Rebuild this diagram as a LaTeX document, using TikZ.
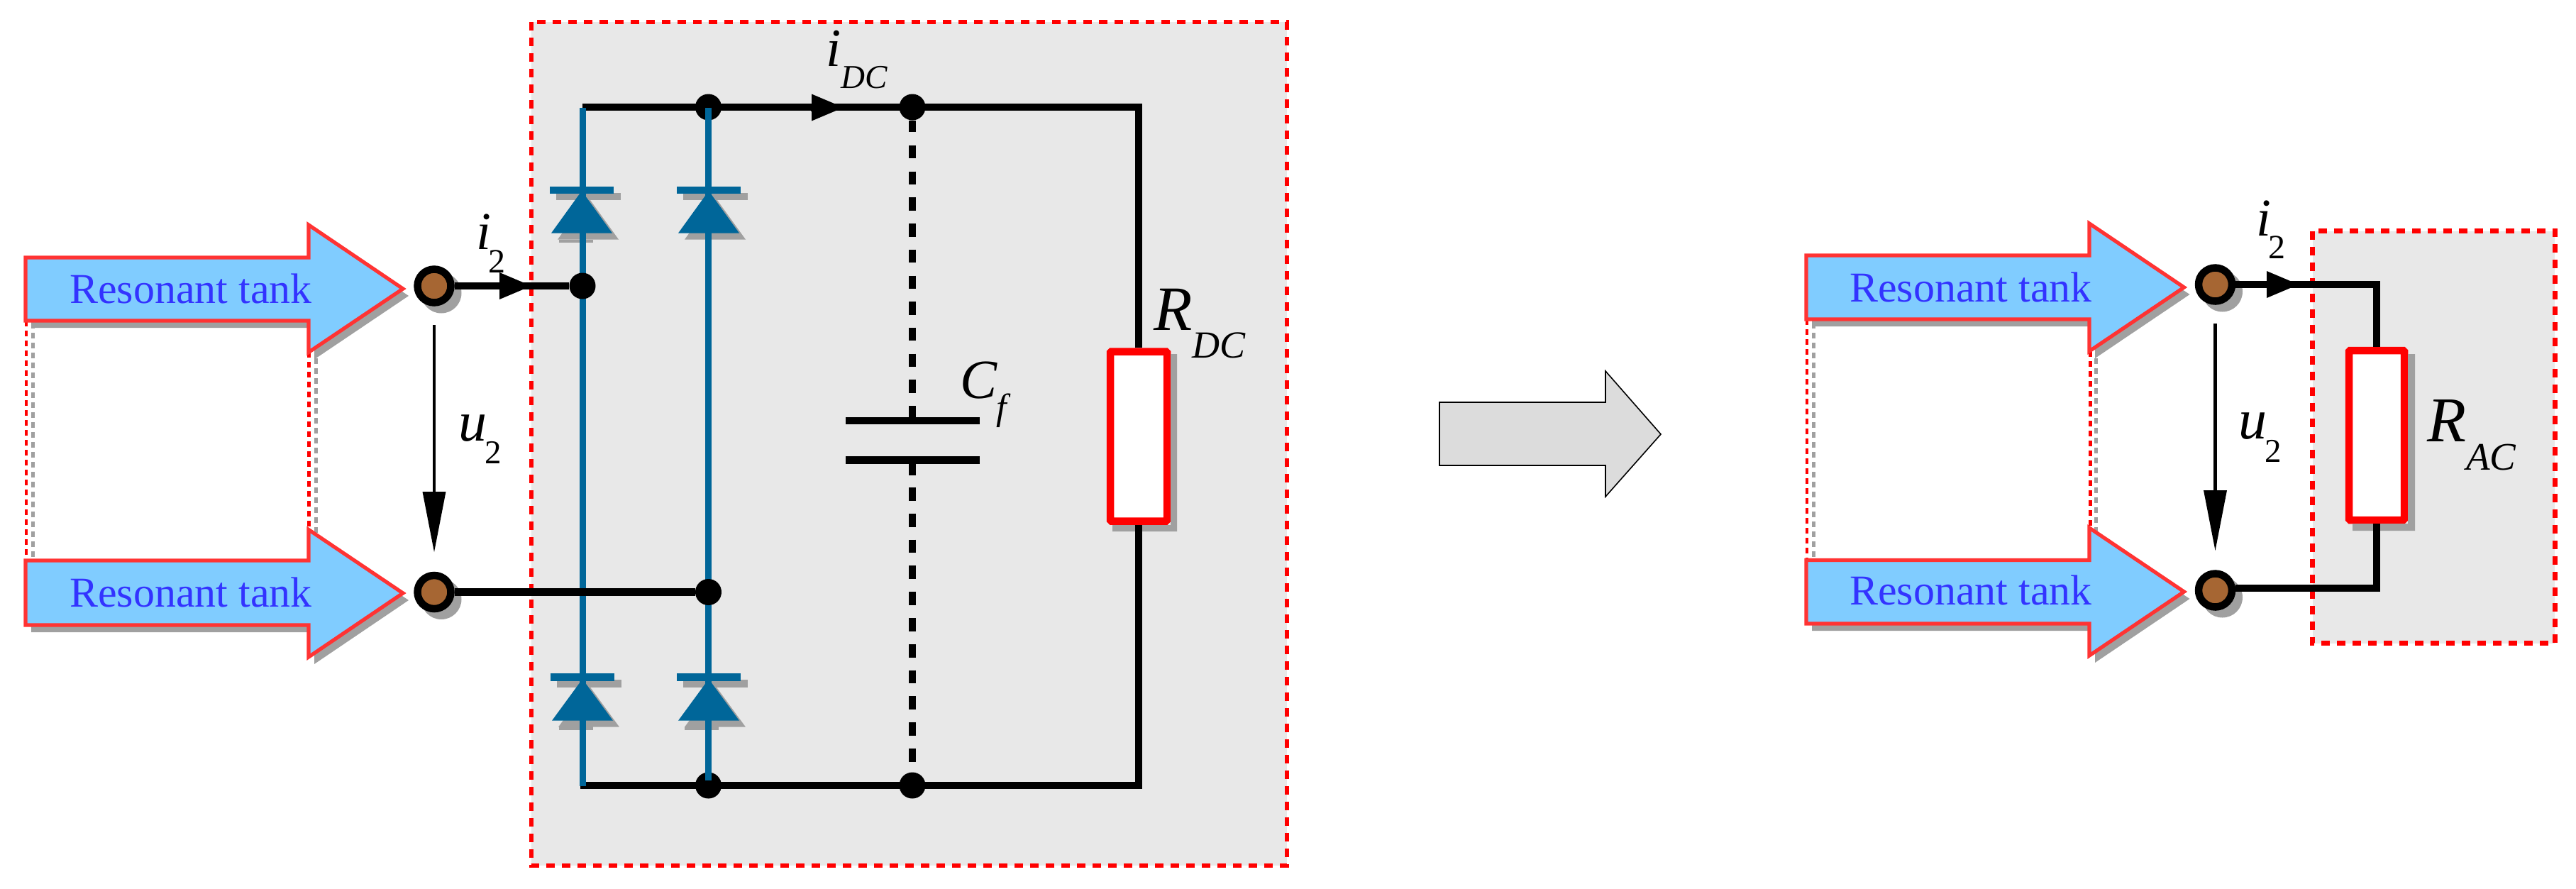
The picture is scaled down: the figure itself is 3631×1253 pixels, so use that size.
\documentclass[tikz,border=0pt]{standalone}
\usepackage{fontspec}
\setmainfont{Liberation Serif}
\usetikzlibrary{arrows.meta}
\definecolor{shadowc}{HTML}{A0A0A0}
\definecolor{tankfill}{HTML}{80CCFF}
\definecolor{tankline}{HTML}{FF3333}
\definecolor{tanktext}{HTML}{3333FF}
\definecolor{boxfill}{HTML}{E8E8E8}
\definecolor{blueline}{HTML}{006699}
\definecolor{brownc}{HTML}{A66633}
\definecolor{midfill}{HTML}{DCDCDC}
\tikzset{
  loadbox/.style={fill=boxfill},
  loadline/.style={draw=red,line width=3.2pt,dash pattern=on 6pt off 5pt},
  wire/.style={draw=black,line width=5.25pt,line join=miter,line cap=butt},
  blwire/.style={draw=blueline,line width=4.5pt},
  dotn/.style={circle,fill=black,inner sep=0pt,minimum size=18.5pt},
  terminal/.style={circle,draw=black,line width=5.25pt,fill=brownc,inner sep=0pt,minimum size=23.5pt},
  resbox/.style={rectangle,draw=red,line width=5.25pt,fill=white,inner sep=0pt,rounded corners=0.8pt},
  tankshape/.style={fill=tankfill,draw=tankline,line width=2.6pt,miter limit=10},
  tanktxt/.style={anchor=base west,inner sep=0pt,outer sep=0pt,text=tanktext,font=\fontsize{30pt}{32pt}\selectfont},
  mathlbl/.style={anchor=base west,inner sep=0pt,outer sep=0pt,text=black},
  reddash/.style={draw=red,line width=2.3pt,dash pattern=on 4pt off 3pt},
  greydash/.style={draw=shadowc,line width=2.5pt,dash pattern=on 4pt off 3pt},
  flowtip/.style={-{Triangle[length=22.5pt,width=19pt,line width=0pt]},draw=black,line width=5pt},
  volt/.style={-{Triangle[length=42.5pt,width=16.5pt,line width=0pt]},draw=black,line width=2.3pt},
}
% main letter, its size, subscript, its size, kern, drop (sizes and lengths in pt)
\newcommand{\lblsub}[6]{{\fontsize{#2pt}{#2pt}\selectfont\itshape #1}\kern#5pt\raisebox{-#6pt}{\fontsize{#4pt}{#4pt}\selectfont #3}}
% left, body top, body bottom, head x, head top, head bottom, tip x, tip y
\newcommand{\tankarrow}[8]{%
  \fill[shadowc] ({#1+8},{#2+10}) -- ({#4+8},{#2+10}) -- ({#4+8},{#5+10}) -- ({#7+8},{#8+10}) -- ({#4+8},{#6+10}) -- ({#4+8},{#3+10}) -- ({#1+8},{#3+10}) -- cycle;
  \path[tankshape] (#1,#2) -- (#4,#2) -- (#4,#5) -- (#7,#8) -- (#4,#6) -- (#4,#3) -- (#1,#3) -- cycle;}
% centre x, bar top, bar bottom, apex y, base y
\newcommand{\diodeshadow}[5]{%
  \fill[shadowc] ({#1-36},{#2+9}) rectangle ({#1+55},{#3+9});
  \fill[shadowc] ({#1+9},{#4+9}) -- ({#1+52},{#5+9}) -- ({#1-34},{#5+9}) -- cycle;}
\newcommand{\diodeshape}[5]{%
  \fill[blueline] ({#1-45},#2) rectangle ({#1+45},#3);
  \fill[blueline] (#1,#4) -- ({#1+43},#5) -- ({#1-43},#5) -- cycle;}
\begin{document}
\begin{tikzpicture}[x=0.5pt,y=-0.5pt]
\useasboundingbox (0,0) rectangle (3631,1253);

% ---------- left part: rectifier box
\fill[loadbox] (749,31) rectangle (1814,1220);
\draw[loadline] (749,31) rectangle (1814,1220);

% resonant tank arrows, left
\draw[greydash] (46,455) -- (46,795);
\draw[greydash] (445,505) -- (445,755);
\draw[reddash] (37,452) -- (37,790);
\draw[reddash] (435.5,496) -- (435.5,746);
\tankarrow{36}{363}{452}{435}{317}{496.5}{568}{407}
\tankarrow{36}{790}{881}{435}{746.5}{926}{568}{836}
\node[tanktxt] (tankA) at (98,427) {Resonant tank};
\node[tanktxt] (tankB) at (98,855) {Resonant tank};

% terminals, left
\fill[shadowc] (622,413) circle[radius=28.5];
\fill[shadowc] (622,844.5) circle[radius=28.5];
\node[terminal] (tA) at (612,403) {};
\node[terminal] (tB) at (612,834.5) {};

% diode shadows
\diodeshadow{820}{263}{273}{269}{328.6}
\diodeshadow{999}{263}{273}{269}{328.6}
\diodeshadow{821}{949}{960}{957}{1015.7}
\diodeshadow{999}{949}{960}{957}{1015.7}
\fill[shadowc] (788,338) rectangle (836,342);
\fill[shadowc] (788,1024) rectangle (836,1029);
\fill[shadowc] (965,1024) rectangle (1013,1029);

% output wires, capacitor, resistor
\node[dotn] (dTop) at (998.5,151) {};
\node[dotn] (dCapT) at (1286,151) {};
\node[dotn] (dBot) at (998.5,1107) {};
\node[dotn] (dCapB) at (1286,1107) {};
\coordinate (tl) at (821,151);
\coordinate (tr) at (1605,151);
\coordinate (bl) at (818,1107);
\coordinate (br) at (1605,1107);
\node[resbox,minimum width=40pt,minimum height=119.5pt] (Rdc) at (1605,615) {};
\fill[shadowc] (1650,499) -- (1659,499) -- (1659,749) -- (1568,749) -- (1568,740) -- (1650,740) -- cycle;
\draw[wire] (tl) -- (tr) -- (Rdc.north);
\draw[wire] (bl) -- (br) -- (Rdc.south);

% capacitor
\coordinate (pA) at (1286,593);
\coordinate (pB) at (1286,648.5);
\coordinate (dashA) at (1286,205);
\coordinate (dashB) at (1286,687);
\coordinate (stubA) at (1286,186);
\coordinate (stubB) at (1286,572);
\coordinate (stubC) at (1286,670);
\draw[wire] (dCapT) -- (stubA);
\draw[wire,dash pattern=on 9.2pt off 9.15pt] (dashA) -- (stubB);
\draw[wire] (stubB) -- (pA);
\draw[wire] (pB) -- (stubC);
\draw[wire,dash pattern=on 9.4pt off 9pt] (dashB) -- (dCapB);
\fill[black] (1192,588) rectangle (1381,598);
\fill[black] (1192,643) rectangle (1381,654);

% i_DC arrow
\coordinate (fDCa) at (1143,151.5);
\coordinate (fDCb) at (1189,151.5);
\draw[flowtip] (fDCa) -- (fDCb);

% diode legs
\coordinate (blA) at (821,151.8);
\coordinate (blB) at (821,1108);
\coordinate (blC) at (998.5,151.8);
\coordinate (blD) at (998.5,1100);
\draw[blwire] (blA) -- (blB);
\draw[blwire] (blC) -- (blD);
\diodeshape{820}{263}{273}{269}{328.6}
\diodeshape{999}{263}{273}{269}{328.6}
\diodeshape{821}{949}{960}{957}{1015.7}
\diodeshape{999}{949}{960}{957}{1015.7}

% input wires
\node[dotn] (dA) at (821,403) {};
\node[dotn] (dB) at (998.5,834.5) {};
\draw[wire] (tA) -- (dA);
\draw[wire] (tB) -- (dB);
\coordinate (fAa) at (705,403);
\coordinate (fAb) at (749,403);
\draw[flowtip] (fAa) -- (fAb);
\coordinate (uAa) at (612,458);
\coordinate (uAb) at (612,778);
\draw[volt] (uAa) -- (uAb);

% labels, left
\node[mathlbl] (lbA) at (671,351) {\lblsub{i}{37.5}{2}{24}{-1.5}{16.5}};
\node[mathlbl] (lbB) at (646,621.5) {\lblsub{u}{40}{2}{23.5}{-1.5}{16}};
\node[mathlbl] (lbC) at (1164,93) {\lblsub{i}{38}{\itshape DC}{23.5}{0}{15.7}};
\node[mathlbl] (lbD) at (1626,465) {\lblsub{R}{44.5}{\itshape DC}{27}{0}{19.5}};
\node[mathlbl] (lbE) at (1353,561) {\lblsub{C}{39}{\itshape f}{26}{-0.5}{15}};

% ---------- middle arrow
\path[fill=midfill,draw=black,line width=0.8pt] (2029,567) -- (2263,567) -- (2263,523) -- (2341,612) -- (2263,700) -- (2263,656) -- (2029,656) -- cycle;

% ---------- right part
\fill[loadbox] (3259.5,325.5) rectangle (3601.4,906.6);
\draw[loadline] (3259.5,325.5) rectangle (3601.4,906.6);

\draw[greydash] (2556,455) -- (2556,795);
\draw[greydash] (2954,505) -- (2954,755);
\draw[reddash] (2547,450) -- (2547,790);
\draw[reddash] (2946.5,495) -- (2946.5,744);
\tankarrow{2546}{360}{450}{2945}{315}{495}{3078.5}{405}
\tankarrow{2546}{789.5}{879}{2945}{744}{924}{3078.5}{834}
\node[tanktxt] (tankC) at (2607,425) {Resonant tank};
\node[tanktxt] (tankD) at (2607,852) {Resonant tank};

\fill[shadowc] (3132.5,411) circle[radius=28.5];
\fill[shadowc] (3132.5,842) circle[radius=28.5];
\node[terminal] (tC) at (3122.5,401) {};
\node[terminal] (tD) at (3122.5,832) {};

\node[resbox,minimum width=39pt,minimum height=119.5pt] (Rac) at (3350,613.5) {};
\fill[shadowc] (3394,499) -- (3404,499) -- (3404,748) -- (3316,748) -- (3316,738) -- (3394,738) -- cycle;
\coordinate (cnA) at (3350,401);
\coordinate (cnB) at (3350,829);
\draw[wire] (tC) -- (cnA) -- (Rac.north);
\draw[wire] (tD.east |- cnB) -- (cnB) -- (Rac.south);

\coordinate (fCa) at (3197.5,401);
\coordinate (fCb) at (3240,401);
\draw[flowtip] (fCa) -- (fCb);
\coordinate (uBa) at (3122.5,456);
\coordinate (uBb) at (3122.5,776);
\draw[volt] (uBa) -- (uBb);

\node[mathlbl] (lbF) at (3180,332) {\lblsub{i}{37.5}{2}{24}{-1.5}{16}};
\node[mathlbl] (lbG) at (3155,618) {\lblsub{u}{40}{2}{23.5}{-1.5}{16.5}};
\node[mathlbl] (lbH) at (3421,622.5) {\lblsub{R}{45}{\itshape AC}{27.5}{0}{20}};
\end{tikzpicture}
\end{document}
